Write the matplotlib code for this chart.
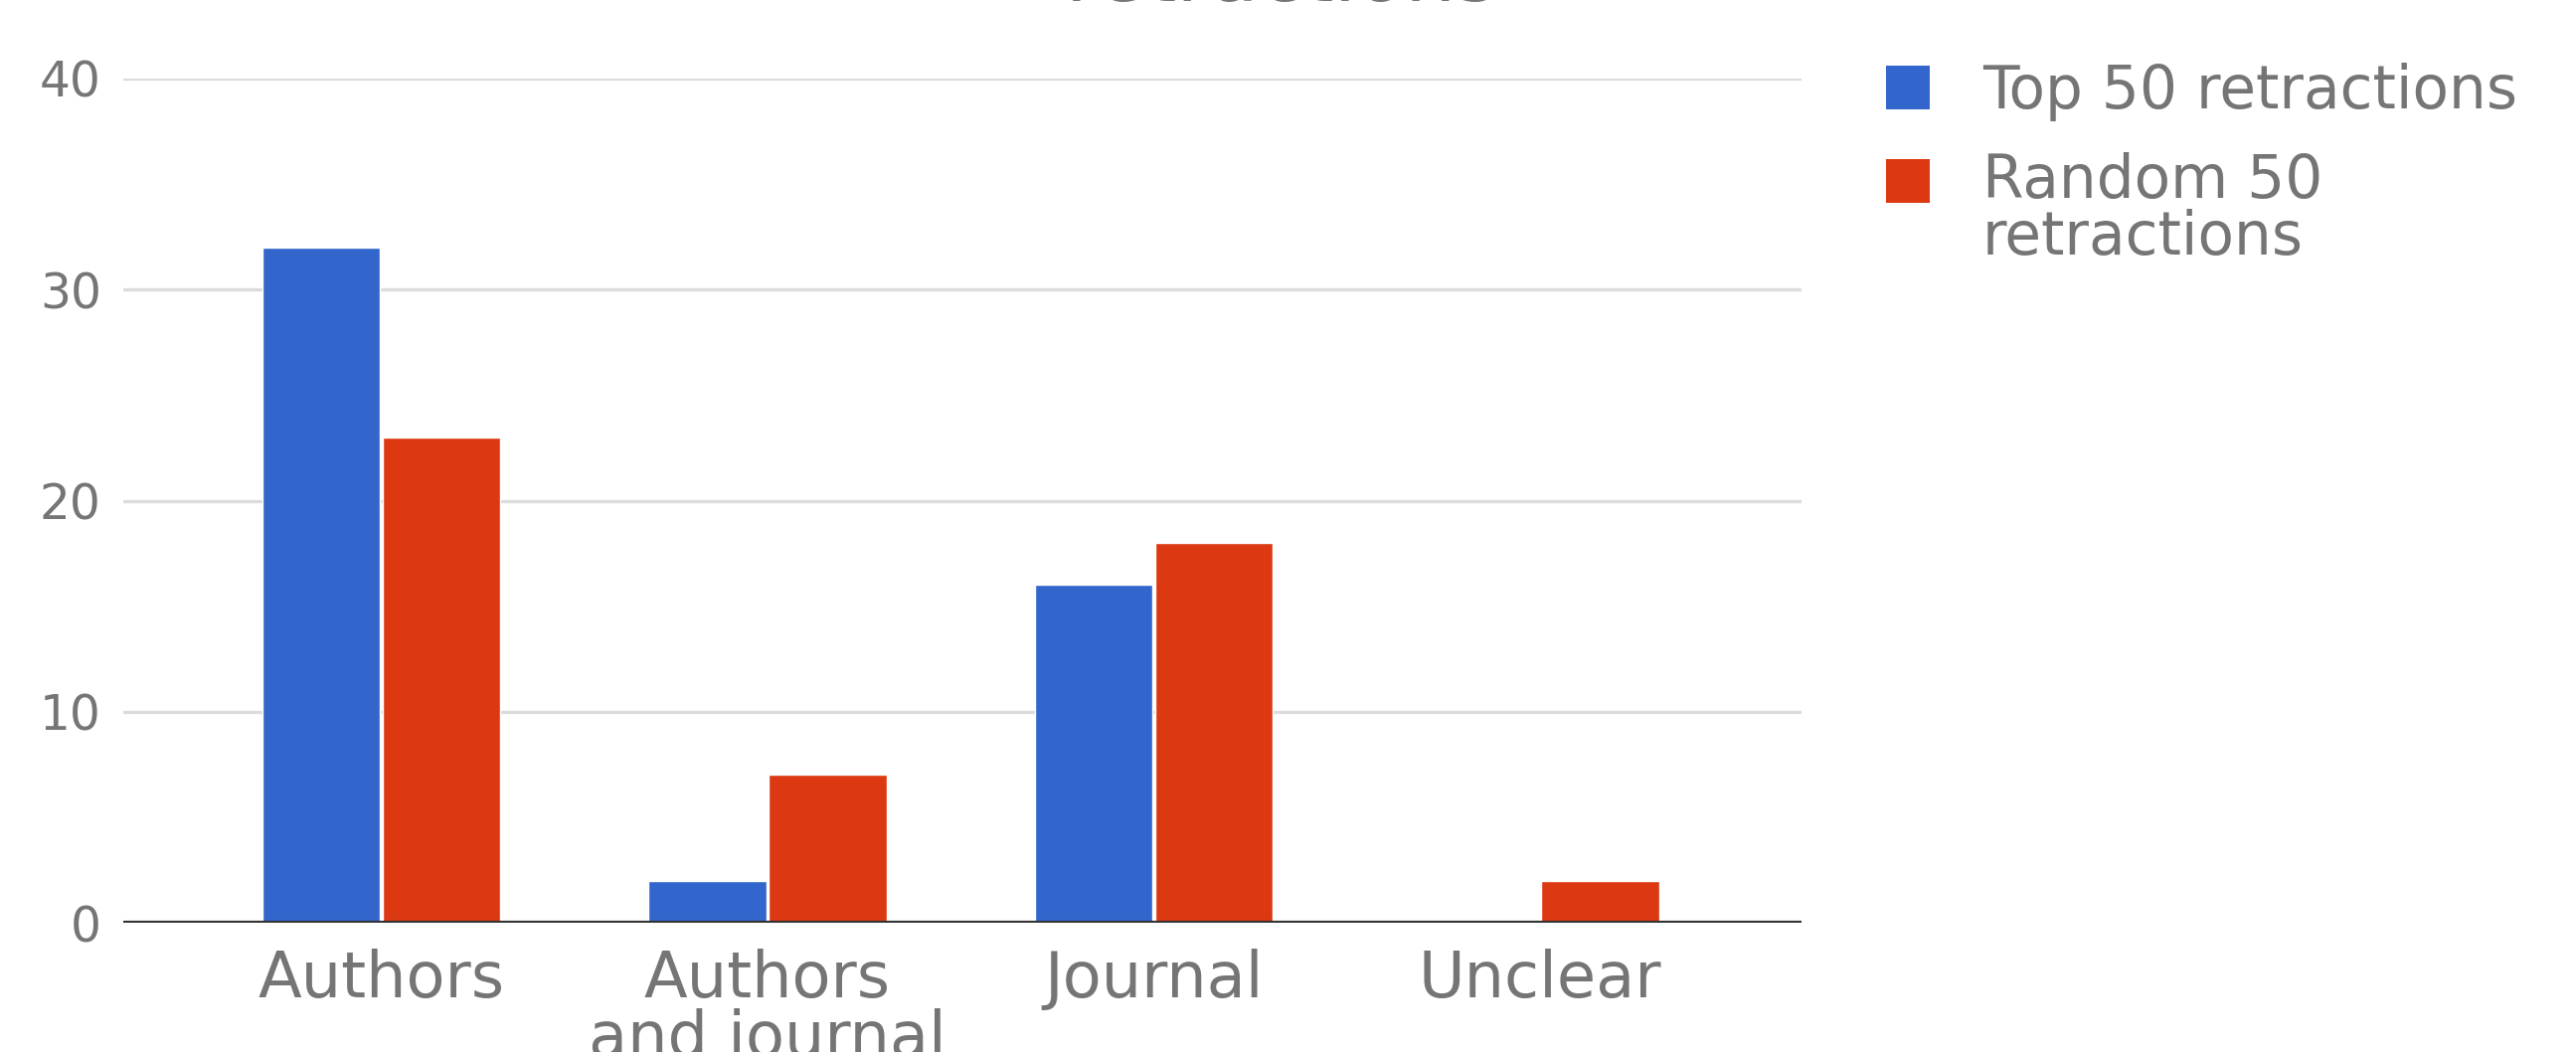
import matplotlib
matplotlib.use("Agg")
import matplotlib.pyplot as plt
import numpy as np
from matplotlib.patches import Rectangle

categories = ["Authors", "Authors\nand journal", "Journal", "Unclear"]
top50 = [32, 2, 16, 0]
random50 = [23, 7, 18, 2]
series_names = ["Top 50 retractions", "Random 50\nretractions"]
yticks = [0, 10, 20, 30, 40]

BLUE = "#3366CC"
RED = "#DC3912"
TEXT = "#757575"
W, H = 2591, 1058

fig = plt.figure(figsize=(W / 100, H / 100), dpi=100)
ax = fig.add_axes([124 / W, 1 - 928 / H, (1812 - 124) / W, (928 - 79) / H])

x = np.arange(len(categories))
w = 0.305
ax.bar(x - 0.156, top50, width=w, color=BLUE, edgecolor="white", linewidth=1.0, zorder=2)
ax.bar(x + 0.156, random50, width=w, color=RED, edgecolor="white", linewidth=1.0, zorder=2)

ax.set_xlim(-0.668, 3.677)
ax.set_ylim(0, 40)
ax.set_yticks(yticks)
ax.set_yticklabels([str(t) for t in yticks])
ax.set_xticks(x)
ax.set_xticklabels(categories, linespacing=0.95)

for s in ax.spines.values():
    s.set_visible(False)
ax.tick_params(axis="both", length=0, colors=TEXT)
ax.tick_params(axis="y", labelsize=35, pad=16)
ax.tick_params(axis="x", labelsize=46, pad=19)

ax.yaxis.grid(True, color="#dcdcdc", linewidth=2.4, zorder=0)
ax.set_axisbelow(True)
ax.axhline(0, color="#333333", linewidth=3, zorder=3)

# legend: colour square beside the first line of each label
colors = [BLUE, RED]
sq_tops = [66, 160]
last_baselines = [109, 256]
sq = 44
for c, top, base, name in zip(colors, sq_tops, last_baselines, series_names):
    fig.add_artist(Rectangle((1897 / W, 1 - (top + sq) / H), sq / W, sq / H,
                             transform=fig.transFigure, facecolor=c, edgecolor="none"))
    fig.text(1994 / W, 1 - base / H, name, ha="left", va="baseline",
             fontsize=43, color=TEXT, linespacing=0.95)

fig.text(1289 / W, 1 - 1 / H, "retractions", ha="center", va="baseline",
         fontsize=58, color=TEXT)

fig.savefig("out.png", dpi=100, facecolor="white")
